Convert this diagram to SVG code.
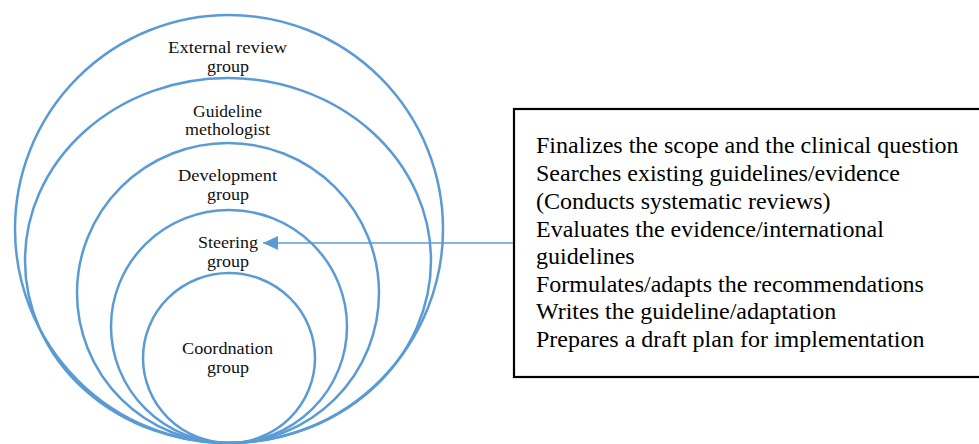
<svg xmlns="http://www.w3.org/2000/svg" width="979" height="444" viewBox="0 0 979 444">
<style>
.ring{fill:none;stroke:#5B9BD5;stroke-width:2.5}
.lbl{font-family:"Liberation Serif","Times New Roman",serif;font-size:17px;fill:#111;text-anchor:middle}
.txt{font-family:"Liberation Serif","Times New Roman",serif;font-size:24px;fill:#000}
.conn{fill:none;stroke:#5B9BD5;stroke-width:1.6}
</style>
<defs>
<marker id="ah" markerUnits="userSpaceOnUse" markerWidth="16" markerHeight="14" refX="15" refY="7" orient="auto">
<path d="M0,0 L15,7 L0,14 z" fill="#5B9BD5"/>
</marker>
</defs>
<rect width="979" height="444" fill="#fff"/>
<g id="external-review">
<ellipse class="ring" cx="229" cy="229" rx="214" ry="214"/>
<text class="lbl" x="227.5" y="53" textLength="119" lengthAdjust="spacingAndGlyphs">External review</text>
<text class="lbl" x="228" y="72" textLength="42" lengthAdjust="spacingAndGlyphs">group</text>
</g>
<g id="guideline-methologist">
<ellipse class="ring" cx="228" cy="260.5" rx="203" ry="182.5"/>
<text class="lbl" x="227.5" y="117" textLength="69" lengthAdjust="spacingAndGlyphs">Guideline</text>
<text class="lbl" x="227.5" y="135" textLength="85" lengthAdjust="spacingAndGlyphs">methologist</text>
</g>
<g id="development">
<ellipse class="ring" cx="228" cy="293" rx="151" ry="150"/>
<text class="lbl" x="227.5" y="181" textLength="99" lengthAdjust="spacingAndGlyphs">Development</text>
<text class="lbl" x="228" y="200" textLength="42" lengthAdjust="spacingAndGlyphs">group</text>
</g>
<g id="steering">
<ellipse class="ring" cx="229" cy="326.5" rx="118" ry="116.5"/>
<text class="lbl" x="228" y="248" textLength="60" lengthAdjust="spacingAndGlyphs">Steering</text>
<text class="lbl" x="228" y="267" textLength="42" lengthAdjust="spacingAndGlyphs">group</text>
</g>
<g id="coordination">
<ellipse class="ring" cx="229" cy="358" rx="86" ry="85"/>
<text class="lbl" x="227.5" y="354" textLength="91" lengthAdjust="spacingAndGlyphs">Coordnation</text>
<text class="lbl" x="228" y="373" textLength="42" lengthAdjust="spacingAndGlyphs">group</text>
</g>
<g id="tasks">
<rect x="514" y="109" width="475" height="268" fill="#fff" stroke="#000" stroke-width="2.2"/>
<text class="txt">
<tspan x="536" y="153">Finalizes the scope and the clinical question</tspan>
<tspan x="536" y="181">Searches existing guidelines/evidence</tspan>
<tspan x="536" y="209">(Conducts systematic reviews)</tspan>
<tspan x="536" y="236.5">Evaluates the evidence/international</tspan>
<tspan x="536" y="264">guidelines</tspan>
<tspan x="536" y="291.5">Formulates/adapts the recommendations</tspan>
<tspan x="536" y="319">Writes the guideline/adaptation</tspan>
<tspan x="536" y="347">Prepares a draft plan for implementation</tspan>
</text>
</g>
<g id="connectors">
<path class="conn" d="M513,243 L263,243" marker-end="url(#ah)"/>
</g>
</svg>
